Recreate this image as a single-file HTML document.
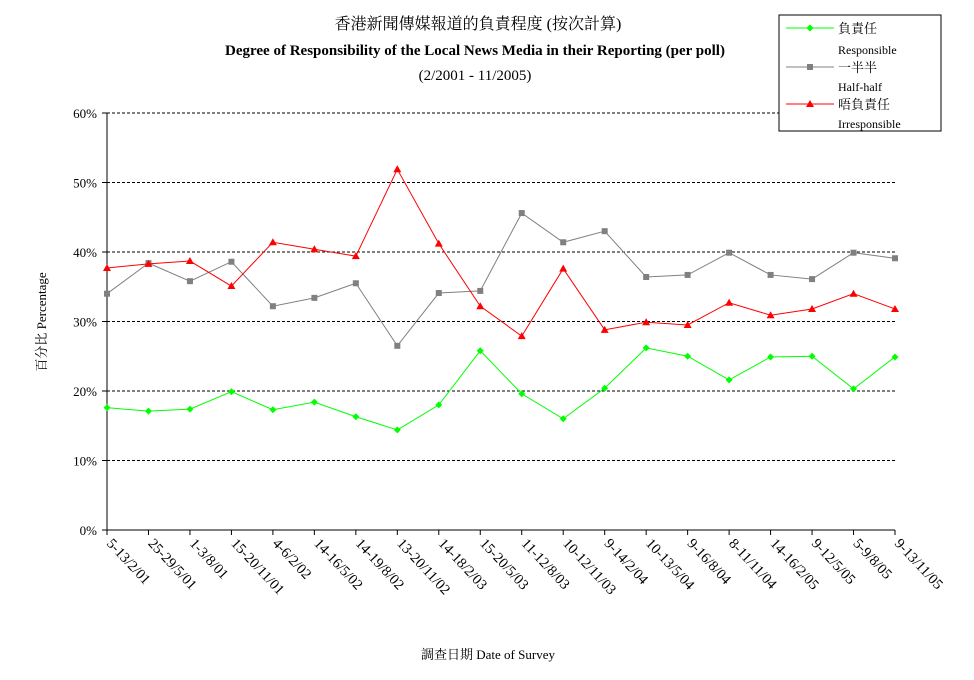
<!DOCTYPE html>
<html><head><meta charset="utf-8"><style>
body{margin:0;background:#fff}
svg{display:block;font-family:"Liberation Serif","Noto Serif CJK SC","Noto Sans CJK TC",serif}
</style></head><body>
<svg id="c" width="974" height="680">
<g id="titles">
<text x="478" y="29" text-anchor="middle" font-size="16">香港新聞傳媒報道的負責程度 (按次計算)</text>
<text x="475" y="55" text-anchor="middle" font-size="15" font-weight="bold">Degree of Responsibility of the Local News Media in their Reporting (per poll)</text>
<text x="475" y="80" text-anchor="middle" font-size="15">(2/2001 - 11/2005)</text>
</g>
<text transform="translate(46,322) rotate(-90)" text-anchor="middle" font-size="13">百分比 Percentage</text>
<text x="488" y="659" text-anchor="middle" font-size="13">調查日期 Date of Survey</text>
<g id="plot"></g>
<g>
<rect x="779" y="15" width="162" height="116" fill="#fff" stroke="#000"/>
<g>
<line x1="786" y1="28" x2="834" y2="28" stroke="#00ff00"/><path d="M810,24.5L813.5,28L810,31.5L806.5,28Z" fill="#00ff00"/>
<text x="838" y="33" font-size="13">負責任</text><text x="838" y="54" font-size="12">Responsible</text></g>
<g>
<line x1="786" y1="67" x2="834" y2="67" stroke="#808080"/><rect x="807" y="64" width="6" height="6" fill="#808080"/>
<text x="838" y="72" font-size="13">一半半</text><text x="838" y="91" font-size="12">Half-half</text></g>
<g>
<line x1="786" y1="104" x2="834" y2="104" stroke="#ff0000"/><path d="M810,100L814,107L806,107Z" fill="#ff0000"/>
<text x="838" y="109" font-size="13">唔負責任</text><text x="838" y="128" font-size="12">Irresponsible</text></g>
</g>
</svg>
<script>
const categories=["5-13/2/01","25-29/5/01","1-3/8/01","15-20/11/01","4-6/2/02","14-16/5/02","14-19/8/02","13-20/11/02","14-18/2/03","15-20/5/03","11-12/8/03","10-12/11/03","9-14/2/04","10-13/5/04","9-16/8/04","8-11/11/04","14-16/2/05","9-12/5/05","5-9/8/05","9-13/11/05"];
const responsible=[17.6,17.1,17.4,19.9,17.3,18.4,16.3,14.4,18.0,25.8,19.6,16.0,20.4,26.2,25.0,21.6,24.9,25.0,20.3,24.9];
const halfHalf=[34.0,38.4,35.8,38.6,32.2,33.4,35.5,26.5,34.1,34.4,45.6,41.4,43.0,36.4,36.7,39.9,36.7,36.1,39.9,39.1];
const irresponsible=[37.7,38.3,38.7,35.1,41.4,40.4,39.4,51.9,41.2,32.2,27.9,37.6,28.8,29.9,29.5,32.7,30.9,31.8,34.0,31.8];
const yTicks=[0,10,20,30,40,50,60];
const NS="http://www.w3.org/2000/svg";
const X0=107,X1=895,Y0=530,Y1=113;
const xs=i=>X0+i*(X1-X0)/(categories.length-1);
const ys=v=>Y0-(v/60)*(Y0-Y1);
const g=document.getElementById('plot');
function mk(t,a){const e=document.createElementNS(NS,t);for(const k in a)e.setAttribute(k,a[k]);return e;}
yTicks.forEach(v=>{
  if(v>0){const l=mk('line',{x1:X0,x2:X1,y1:ys(v),y2:ys(v),stroke:'#000','stroke-dasharray':'3,2'});
  
  g.appendChild(l);}
  const tk=mk('line',{x1:X0-5,x2:X0,y1:ys(v),y2:ys(v),stroke:'#000'});g.appendChild(tk);
  const t=mk('text',{x:X0-10,y:ys(v)+5,'text-anchor':'end','font-size':13});t.textContent=v+'%';
  
  g.appendChild(t);
});
const ax=mk('line',{x1:X0,x2:X0,y1:Y1,y2:Y0,stroke:'#000'});

g.appendChild(ax);
const bx=mk('line',{x1:X0,x2:X1,y1:Y0,y2:Y0,stroke:'#000'});

g.appendChild(bx);
categories.forEach((c,i)=>{
  const x=xs(i);
  g.appendChild(mk('line',{x1:x,x2:x,y1:Y0,y2:Y0+5,stroke:'#000'}));
  const t=mk('text',{transform:`translate(${x-1},${Y0+14}) rotate(47)`,'font-size':14.5});t.textContent=c;
  
  g.appendChild(t);
});
function series(data,color,shape,name){
  const p=mk('polyline',{points:data.map((v,i)=>xs(i)+','+ys(v)).join(' '),fill:'none',stroke:color});
  
  g.appendChild(p);
  data.forEach((v,i)=>{const x=xs(i),y=ys(v);let m;
    if(shape==='d')m=mk('path',{d:`M${x},${y-3.5}L${x+3.5},${y}L${x},${y+3.5}L${x-3.5},${y}Z`,fill:color});
    else if(shape==='s')m=mk('rect',{x:x-3,y:y-3,width:6,height:6,fill:color});
    else m=mk('path',{d:`M${x},${y-4}L${x+4},${y+3}L${x-4},${y+3}Z`,fill:color});
    
    g.appendChild(m);});
}
series(halfHalf,'#808080','s','half-half');
series(irresponsible,'#ff0000','t','irresponsible');
series(responsible,'#00ff00','d','responsible');
</script>
</body></html>
